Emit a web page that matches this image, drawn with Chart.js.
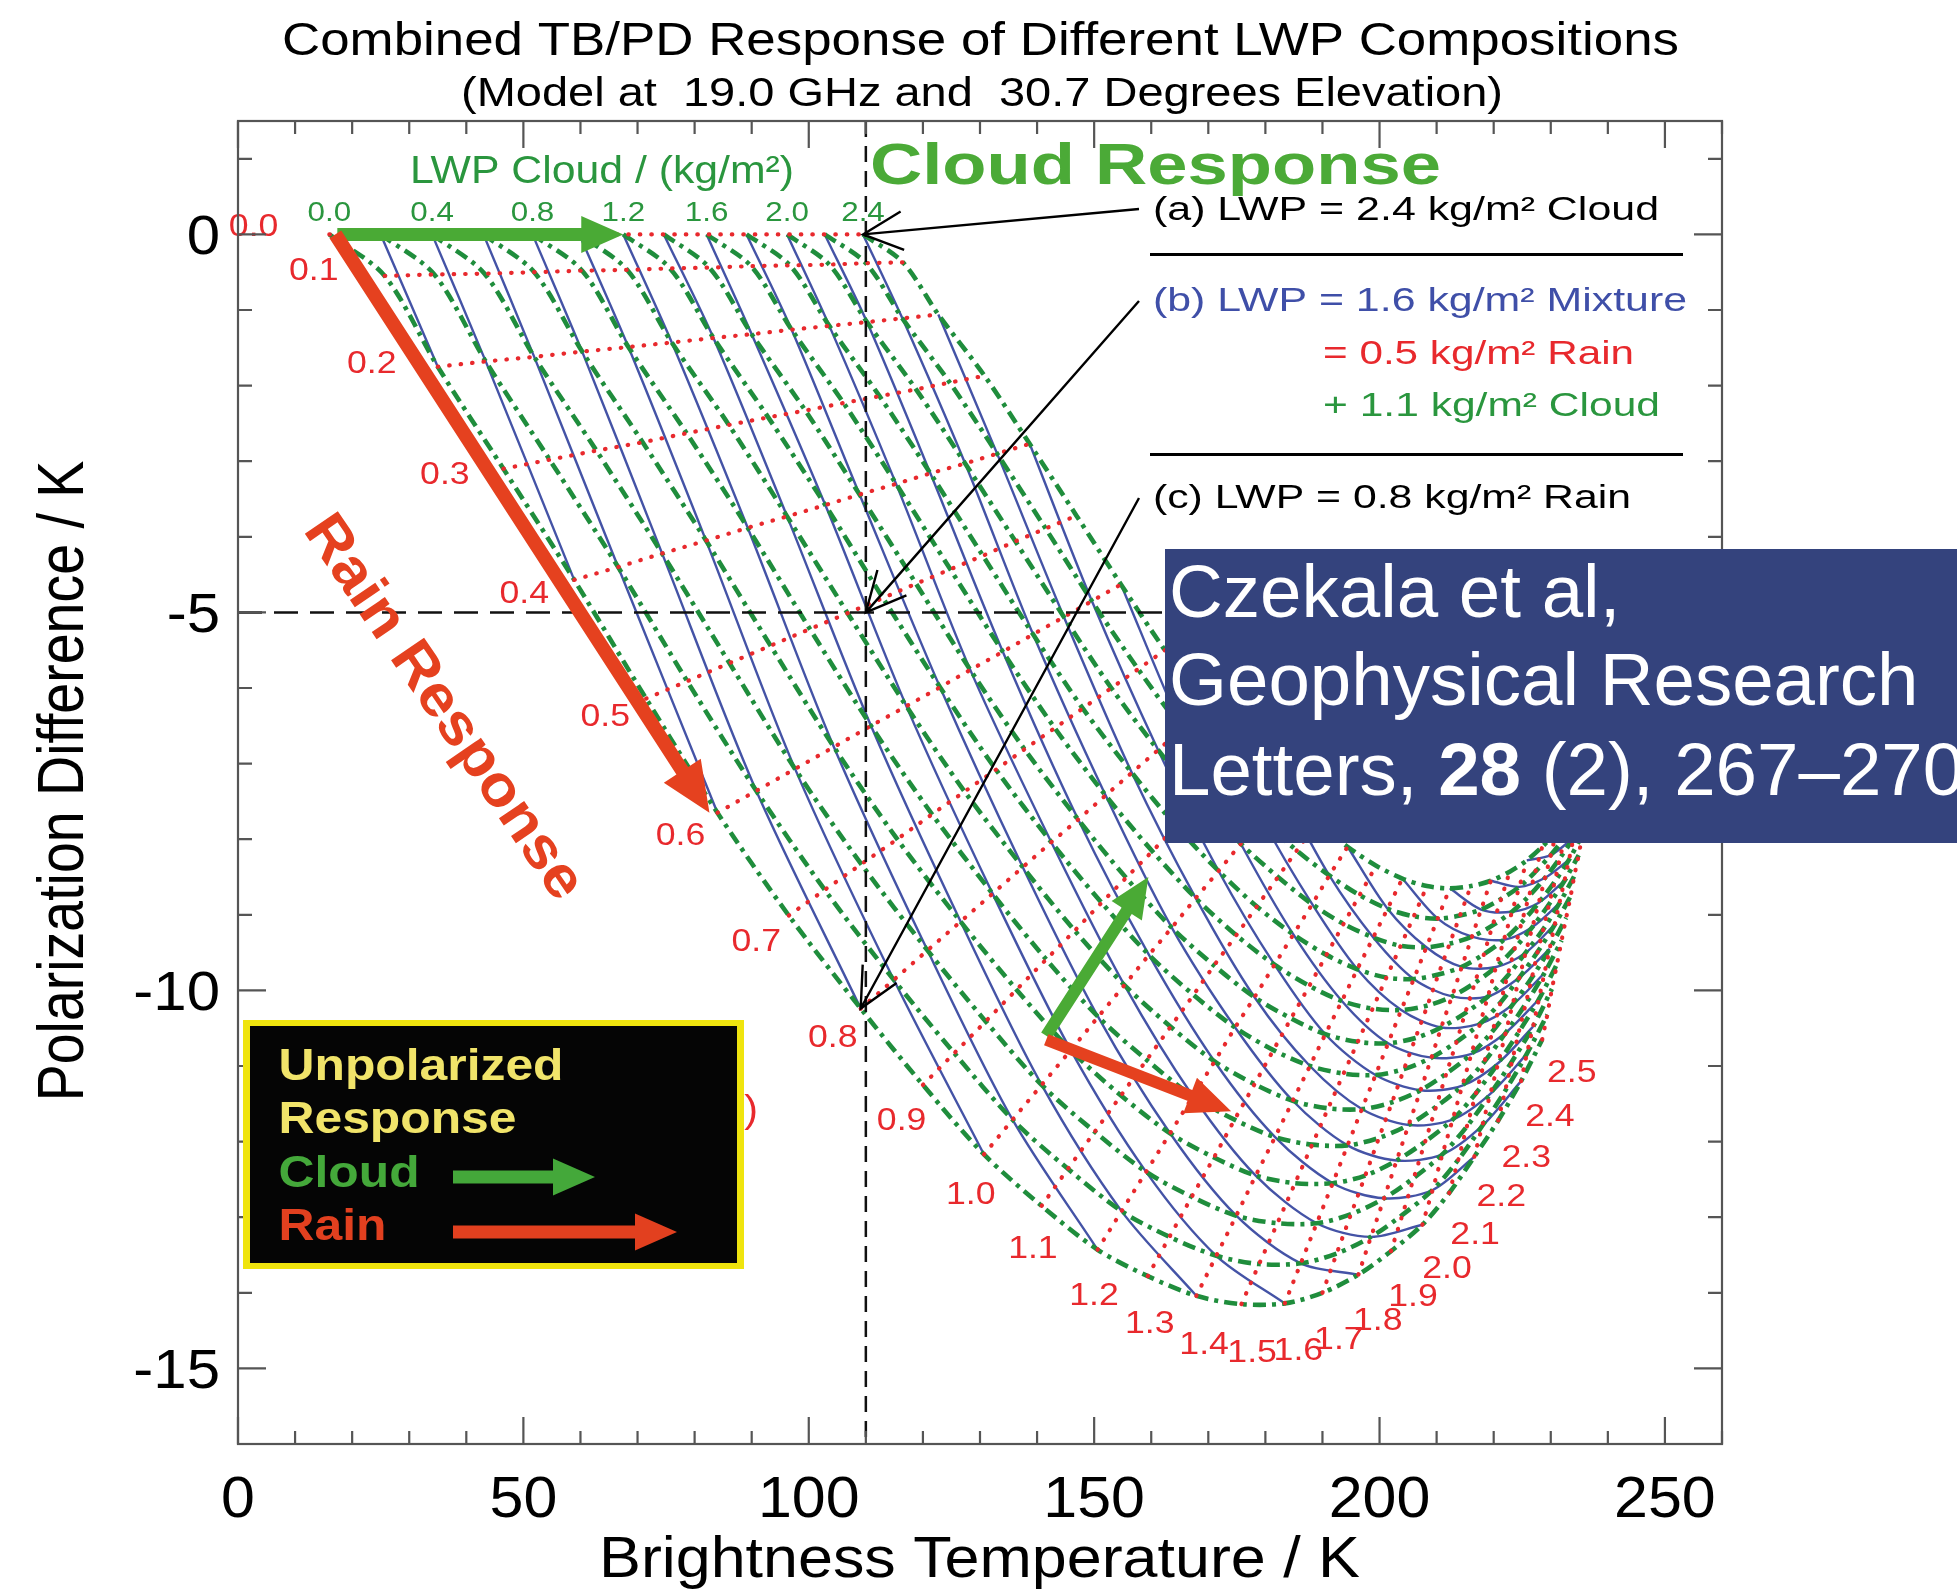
<!DOCTYPE html>
<html>
<head>
<meta charset="utf-8">
<script src="https://cdn.jsdelivr.net/npm/chart.js@4.4.1/dist/chart.umd.min.js"></script>
<style>
  html, body { margin: 0; padding: 0; background: #fff; }
  #wrap { position: relative; width: 1957px; height: 1593px; }
</style>
</head>
<body>
<div id="wrap"><canvas id="tbpd" width="1957" height="1593"></canvas></div>
<script>
// rain LWP (rows) and cloud LWP (columns) of the model grid, kg/m2
const rainLwp = [0.0, 0.1, 0.2, 0.3, 0.4, 0.5, 0.6, 0.7, 0.8, 0.9, 1.0, 1.1, 1.2,
                 1.3, 1.4, 1.5, 1.6, 1.7, 1.8, 1.9, 2.0, 2.1, 2.2, 2.3, 2.4, 2.5];
const cloudLwp = [0.0, 0.2, 0.4, 0.6, 0.8, 1.0, 1.2, 1.4, 1.6, 1.8, 2.0, 2.2, 2.4];

// brightness temperature (K) at each grid node, one row per rain value
const tbGrid = [
  [16.0, 25.0, 34.0, 43.0, 51.6, 59.8, 67.5, 74.6, 82.1, 89.1, 96.2, 102.8, 109.5],
  [25.7, 34.4, 43.2, 51.9, 60.3, 68.2, 75.7, 82.6, 89.9, 96.7, 103.6, 110.0, 116.5],
  [35.0, 43.4, 51.9, 60.3, 68.4, 76.0, 83.3, 90.0, 97.0, 103.6, 110.2, 116.4, 122.7],
  [46.5, 54.6, 62.8, 70.9, 78.6, 86.0, 92.9, 99.4, 106.1, 112.4, 118.8, 124.7, 130.8],
  [58.9, 66.6, 74.3, 82.0, 89.3, 96.2, 102.9, 108.9, 115.3, 121.3, 127.4, 133.0, 138.7],
  [71.5, 78.7, 86.1, 93.3, 100.2, 106.8, 113.0, 118.8, 124.8, 130.5, 136.2, 141.5, 146.9],
  [84.0, 90.8, 97.6, 104.4, 110.9, 117.1, 123.0, 128.3, 134.0, 139.3, 144.7, 149.6, 154.7],
  [96.5, 102.8, 109.2, 115.5, 121.6, 127.3, 132.8, 137.8, 143.1, 148.0, 153.0, 157.7, 162.4],
  [109.1, 114.9, 120.8, 126.6, 132.2, 137.5, 142.5, 147.2, 152.0, 156.6, 161.2, 165.4, 169.8],
  [120.0, 125.5, 131.0, 136.4, 141.6, 146.6, 151.3, 155.6, 160.2, 164.4, 168.7, 172.7, 176.8],
  [130.7, 135.7, 140.8, 145.9, 150.7, 155.3, 159.6, 163.6, 167.8, 171.8, 175.7, 179.4, 183.2],
  [140.8, 145.4, 150.1, 154.7, 159.2, 163.4, 167.4, 171.0, 174.9, 178.5, 182.2, 185.5, 189.0],
  [150.6, 154.8, 159.1, 163.3, 167.3, 171.1, 174.7, 178.1, 181.6, 184.9, 188.2, 191.2, 194.4],
  [159.4, 163.2, 167.1, 171.0, 174.6, 178.1, 181.4, 184.5, 187.7, 190.7, 193.7, 196.5, 199.4],
  [167.9, 171.4, 174.9, 178.3, 181.7, 184.8, 187.8, 190.5, 193.4, 196.1, 198.9, 201.4, 204.0],
  [175.8, 178.9, 182.1, 185.2, 188.2, 191.0, 193.7, 196.2, 198.8, 201.2, 203.7, 206.0, 208.3],
  [183.4, 186.2, 189.0, 191.8, 194.4, 196.9, 199.3, 201.5, 203.8, 206.0, 208.2, 210.2, 212.3],
  [190.0, 192.5, 195.0, 197.5, 199.9, 202.2, 204.3, 206.3, 208.4, 210.3, 212.3, 214.1, 216.0],
  [196.3, 198.5, 200.8, 203.0, 205.1, 207.2, 209.1, 210.8, 212.7, 214.4, 216.2, 217.8, 219.5],
  [202.0, 204.0, 206.0, 208.0, 209.9, 211.7, 213.5, 215.0, 216.7, 218.3, 219.8, 221.3, 222.8],
  [207.5, 209.3, 211.0, 212.8, 214.5, 216.1, 217.6, 219.0, 220.4, 221.8, 223.2, 224.5, 225.8],
  [212.2, 213.8, 215.3, 216.9, 218.4, 219.8, 221.2, 222.4, 223.7, 224.9, 226.2, 227.3, 228.5],
  [216.6, 218.0, 219.4, 220.8, 222.1, 223.3, 224.5, 225.6, 226.8, 227.9, 229.0, 230.0, 231.0],
  [220.8, 222.0, 223.2, 224.4, 225.6, 226.7, 227.7, 228.7, 229.7, 230.7, 231.6, 232.5, 233.4],
  [224.8, 225.8, 226.9, 227.9, 228.9, 229.8, 230.7, 231.5, 232.4, 233.2, 234.0, 234.7, 235.5],
  [228.5, 229.4, 230.2, 231.1, 231.9, 232.7, 233.5, 234.1, 234.9, 235.5, 236.2, 236.9, 237.5]
];

// polarization difference (K) at each grid node
const pdGrid = [
  [0, 0, 0, 0, 0, 0, 0, 0, 0, 0, 0, 0, 0],
  [-0.55, -0.53, -0.52, -0.50, -0.48, -0.47, -0.45, -0.44, -0.42, -0.41, -0.40, -0.38, -0.37],
  [-1.75, -1.68, -1.62, -1.55, -1.49, -1.43, -1.37, -1.32, -1.26, -1.21, -1.16, -1.11, -1.06],
  [-3.10, -2.98, -2.86, -2.75, -2.63, -2.52, -2.42, -2.33, -2.23, -2.14, -2.05, -1.96, -1.87],
  [-4.57, -4.40, -4.22, -4.05, -3.88, -3.73, -3.58, -3.44, -3.30, -3.16, -3.03, -2.90, -2.77],
  [-6.14, -5.91, -5.67, -5.44, -5.22, -5.01, -4.81, -4.62, -4.43, -4.25, -4.06, -3.89, -3.72],
  [-7.65, -7.36, -7.07, -6.78, -6.50, -6.24, -5.99, -5.76, -5.52, -5.29, -5.06, -4.85, -4.63],
  [-9.01, -8.67, -8.33, -8.00, -7.67, -7.37, -7.08, -6.81, -6.53, -6.27, -6.00, -5.75, -5.50],
  [-10.24, -9.86, -9.47, -9.09, -8.72, -8.37, -8.04, -7.74, -7.42, -7.12, -6.82, -6.54, -6.25],
  [-11.25, -10.83, -10.41, -9.99, -9.59, -9.21, -8.84, -8.51, -8.16, -7.83, -7.50, -7.20, -6.88],
  [-12.17, -11.71, -11.25, -10.79, -10.35, -9.93, -9.53, -9.17, -8.78, -8.42, -8.06, -7.73, -7.38],
  [-12.85, -12.36, -11.87, -11.39, -10.92, -10.48, -10.06, -9.67, -9.27, -8.89, -8.50, -8.15, -7.78],
  [-13.43, -12.92, -12.40, -11.89, -11.40, -10.94, -10.49, -10.09, -9.66, -9.26, -8.86, -8.48, -8.10],
  [-13.78, -13.26, -12.73, -12.21, -11.71, -11.24, -10.79, -10.37, -9.94, -9.53, -9.12, -8.74, -8.35],
  [-14.04, -13.51, -12.98, -12.45, -11.94, -11.46, -11.00, -10.58, -10.14, -9.72, -9.30, -8.92, -8.52],
  [-14.15, -13.62, -13.08, -12.55, -12.04, -11.56, -11.10, -10.68, -10.24, -9.83, -9.41, -9.02, -8.62],
  [-14.14, -13.61, -13.08, -12.55, -12.05, -11.57, -11.12, -10.70, -10.26, -9.85, -9.43, -9.05, -8.65],
  [-14.00, -13.48, -12.96, -12.45, -11.95, -11.48, -11.04, -10.63, -10.20, -9.79, -9.38, -9.01, -8.62],
  [-13.76, -13.26, -12.75, -12.25, -11.78, -11.32, -10.89, -10.49, -10.08, -9.69, -9.29, -8.93, -8.55],
  [-13.45, -12.97, -12.48, -12.00, -11.54, -11.10, -10.68, -10.30, -9.90, -9.52, -9.14, -8.79, -8.43],
  [-13.10, -12.64, -12.17, -11.71, -11.26, -10.84, -10.44, -10.08, -9.69, -9.33, -8.96, -8.63, -8.28],
  [-12.68, -12.24, -11.80, -11.36, -10.94, -10.54, -10.16, -9.81, -9.44, -9.10, -8.75, -8.43, -8.10],
  [-12.20, -11.79, -11.37, -10.96, -10.56, -10.19, -9.83, -9.50, -9.16, -8.84, -8.51, -8.21, -7.90],
  [-11.72, -11.33, -10.94, -10.55, -10.18, -9.83, -9.49, -9.19, -8.86, -8.56, -8.25, -7.97, -7.68],
  [-11.20, -10.84, -10.48, -10.12, -9.77, -9.45, -9.13, -8.85, -8.55, -8.27, -7.98, -7.72, -7.45],
  [-10.65, -10.32, -9.98, -9.65, -9.34, -9.04, -8.75, -8.49, -8.21, -7.95, -7.69, -7.45, -7.20]
];

const xTicks = [0, 50, 100, 150, 200, 250];
const yTicks = [0, -5, -10, -15];

// reference lines and the example points (a), (b), (c)
const markTB = 110;
const markPD = -5;

// small response arrows in the lower middle (TB, PD)
const arrowBase = [141.6, -10.6];
const cloudTip = [159.5, -8.5];
const rainTip = [174.0, -11.6];

const FONT = '"Liberation Sans", Arial, Helvetica, sans-serif';
const RED = '#e8292d';
const GREEN_LINE = '#1f8d3c';
const GREEN_TXT = '#2a963e';
const BLUE = '#4453a6';

// where the rain labels sit relative to their node (direction in degrees, distance in px)
const labelAnchorR = [0, 0.2, 0.5, 0.8, 1.0, 1.4, 2.0, 2.5];
const labelAngle = [185, 182, 155, 133, 108, 81, 61, 49];
const labelDist = [76, 66, 45, 41, 43, 50, 51, 45];

function lerpTable(xs, ys, x) {
  if (x <= xs[0]) return ys[0];
  for (let k = 1; k < xs.length; k++) {
    if (x <= xs[k]) {
      const t = (x - xs[k - 1]) / (xs[k] - xs[k - 1]);
      return ys[k - 1] + t * (ys[k] - ys[k - 1]);
    }
  }
  return ys[ys.length - 1];
}

// ---- datasets ----
const datasets = [];

// blue: constant total LWP (even tenths), through nodes on even rain rows
for (let k = 1; k <= 24; k++) {
  const pts = [];
  for (let m = Math.max(0, k - 12); m <= Math.min(12, k); m++) {
    if (2 * m < rainLwp.length) pts.push({ x: tbGrid[2 * m][k - m], y: pdGrid[2 * m][k - m] });
  }
  if (pts.length < 2) continue;
  datasets.push({
    data: pts, showLine: true, pointRadius: 0, borderColor: BLUE,
    borderWidth: 2.4, tension: 0.3, order: 2
  });
}

// green dash-dot: constant cloud LWP
cloudLwp.forEach((c, j) => {
  datasets.push({
    data: rainLwp.map((r, i) => ({ x: tbGrid[i][j], y: pdGrid[i][j] })),
    showLine: true, pointRadius: 0, borderColor: GREEN_LINE, borderWidth: 4.6,
    borderDash: [13, 6, 4, 6], tension: 0.3, order: 1
  });
});

// red dotted: constant rain LWP
rainLwp.forEach((r, i) => {
  datasets.push({
    data: cloudLwp.map((c, j) => ({ x: tbGrid[i][j], y: pdGrid[i][j] })),
    showLine: true, pointRadius: 0, borderColor: RED, borderWidth: 4.2,
    borderCapStyle: 'round', borderDash: [0.5, 11], tension: 0, order: 0
  });
});

// ---- drawing helpers ----
function text(ctx, s, x, y, o) {
  ctx.save();
  ctx.font = (o.weight || 'normal') + ' ' + o.size + 'px ' + FONT;
  ctx.fillStyle = o.color || '#000';
  ctx.textAlign = o.align || 'left';
  ctx.textBaseline = o.base || 'alphabetic';
  let sx = o.sx || 1;
  if (o.width) sx = o.width / ctx.measureText(s).width;
  ctx.translate(x, y);
  if (o.screenSx) ctx.scale(o.screenSx, 1);
  if (o.rot) ctx.rotate(o.rot);
  ctx.scale(sx, 1);
  ctx.fillText(s, 0, 0);
  ctx.restore();
}

function fatArrow(ctx, x1, y1, x2, y2, w, hl, hw, color) {
  const ang = Math.atan2(y2 - y1, x2 - x1);
  const len = Math.hypot(x2 - x1, y2 - y1);
  ctx.save();
  ctx.translate(x1, y1);
  ctx.rotate(ang);
  ctx.beginPath();
  ctx.moveTo(0, -w / 2);
  ctx.lineTo(len - hl, -w / 2);
  ctx.lineTo(len - hl, -hw / 2);
  ctx.lineTo(len, 0);
  ctx.lineTo(len - hl, hw / 2);
  ctx.lineTo(len - hl, w / 2);
  ctx.lineTo(0, w / 2);
  ctx.closePath();
  ctx.fillStyle = color;
  ctx.fill();
  ctx.restore();
}

function pointer(ctx, x1, y1, x2, y2) {
  ctx.save();
  ctx.strokeStyle = '#000';
  ctx.lineWidth = 2.4;
  ctx.beginPath();
  ctx.moveTo(x1, y1);
  ctx.lineTo(x2, y2);
  const back = Math.atan2(y1 - y2, x1 - x2);
  const a = 26 * Math.PI / 180;
  ctx.moveTo(x2 + 44 * Math.cos(back - a), y2 + 44 * Math.sin(back - a));
  ctx.lineTo(x2, y2);
  ctx.lineTo(x2 + 44 * Math.cos(back + a), y2 + 44 * Math.sin(back + a));
  ctx.stroke();
  ctx.restore();
}

const overlay = {
  id: 'overlay',
  beforeDraw(chart) {
    const ctx = chart.ctx;
    ctx.save();
    ctx.fillStyle = '#fff';
    ctx.fillRect(0, 0, chart.width, chart.height);
    ctx.restore();
  },
  afterDatasetsDraw(chart) {
    const ctx = chart.ctx;
    const xs = chart.scales.x, ys = chart.scales.y;
    const ca = chart.chartArea;
    const px = v => xs.getPixelForValue(v);
    const py = v => ys.getPixelForValue(v);

    // dashed reference lines
    ctx.save();
    ctx.strokeStyle = '#111';
    ctx.lineWidth = 2.5;
    ctx.setLineDash([16, 9]);
    ctx.beginPath();
    ctx.moveTo(px(markTB), ca.top);
    ctx.lineTo(px(markTB), ca.bottom);
    ctx.stroke();
    ctx.setLineDash([24, 12]);
    ctx.beginPath();
    ctx.moveTo(ca.left, py(markPD));
    ctx.lineTo(ca.right, py(markPD));
    ctx.stroke();
    ctx.restore();

    // big response arrows from the clear-sky node
    const x0 = px(tbGrid[0][0]), y0 = py(pdGrid[0][0]);
    fatArrow(ctx, x0 + 8, y0, px(tbGrid[0][6]), py(pdGrid[0][6]), 13, 42, 37, '#4aaa35');
    fatArrow(ctx, x0 + 6, y0, px(tbGrid[6][0]) - 8, py(pdGrid[6][0]), 14, 50, 44, '#e5411f');

    // small arrows
    fatArrow(ctx, px(arrowBase[0]), py(arrowBase[1]), px(cloudTip[0]), py(cloudTip[1]), 12, 40, 36, '#4aaa35');
    fatArrow(ctx, px(arrowBase[0]), py(arrowBase[1]) + 4, px(rainTip[0]), py(rainTip[1]), 12, 44, 38, '#e5411f');

    // rain labels along the pure-rain curve
    rainLwp.forEach((r, i) => {
      const th = lerpTable(labelAnchorR, labelAngle, r) * Math.PI / 180;
      const L = lerpTable(labelAnchorR, labelDist, r);
      const x = px(tbGrid[i][0]) + L * Math.cos(th);
      const y = py(pdGrid[i][0]) + L * Math.sin(th);
      text(ctx, r.toFixed(1), x, y, { size: 31, color: RED, align: 'center', base: 'middle', sx: 1.15 });
    });

    // cloud labels along the top row
    cloudLwp.forEach((c, j) => {
      if (j % 2) return;
      text(ctx, c.toFixed(1), px(tbGrid[0][j]), py(0) - 13, { size: 28, color: GREEN_TXT, align: 'center', sx: 1.12 });
    });
    text(ctx, 'LWP Cloud / (kg/m\u00b2)', 410, 183, { size: 38.6, color: GREEN_TXT, width: 384 });

    // big captions
    text(ctx, 'Cloud Response', 870, 184, { size: 58, weight: 'bold', color: '#4baa37', width: 571 });
    text(ctx, 'Rain Response', 443, 708, { size: 58, weight: 'bold', color: '#e5411f', align: 'center', base: 'middle', rot: 55.7 * Math.PI / 180, width: 452 });

    // frame and inward ticks
    ctx.save();
    ctx.strokeStyle = '#555';
    ctx.lineWidth = 2.2;
    ctx.strokeRect(ca.left, ca.top, ca.right - ca.left, ca.bottom - ca.top);
    ctx.beginPath();
    for (let v = 0; v <= xs.max; v += 10) {
      const x = px(v);
      const len = xTicks.includes(v) ? 27 : 13;
      ctx.moveTo(x, ca.bottom); ctx.lineTo(x, ca.bottom - len);
      ctx.moveTo(x, ca.top); ctx.lineTo(x, ca.top + len);
    }
    for (let v = Math.ceil(ys.min); v <= ys.max; v += 1) {
      const y = py(v);
      const len = yTicks.includes(v) ? 28 : 14;
      ctx.moveTo(ca.left, y); ctx.lineTo(ca.left + len, y);
      ctx.moveTo(ca.right, y); ctx.lineTo(ca.right - len, y);
    }
    ctx.stroke();
    ctx.restore();

    // tick labels
    xTicks.forEach(v => text(ctx, String(v), px(v), 1517, { size: 58, align: 'center', sx: 1.05 }));
    yTicks.forEach(v => text(ctx, String(v), 220, py(v) + 20, { size: 55, align: 'right', sx: 1.09 }));

    // axis titles and chart title
    text(ctx, 'Brightness Temperature / K', 979.5, 1577, { size: 58, align: 'center', width: 761 });
    text(ctx, 'Polarization Difference / K', 83, 781, { size: 55.5, align: 'center', screenSx: 1.18, rot: -Math.PI / 2 });
    text(ctx, 'Combined TB/PD Response of Different LWP Compositions', 980.5, 55, { size: 46.5, align: 'center', width: 1397 });
    text(ctx, '(Model at  19.0 GHz and  30.7 Degrees Elevation)', 982, 106, { size: 40, align: 'center', width: 1042 });

    // example annotations on the right
    text(ctx, '(a) LWP = 2.4 kg/m\u00b2 Cloud', 1153, 220, { size: 33, width: 506 });
    text(ctx, '(b) LWP = 1.6 kg/m\u00b2 Mixture', 1153, 311, { size: 33, color: '#3f4fa8', width: 534 });
    text(ctx, '= 0.5 kg/m\u00b2 Rain', 1323, 364, { size: 33, color: RED, width: 311 });
    text(ctx, '+ 1.1 kg/m\u00b2 Cloud', 1323, 416, { size: 33, color: GREEN_TXT, width: 337 });
    text(ctx, '(c) LWP = 0.8 kg/m\u00b2 Rain', 1153, 508, { size: 33, width: 478 });
    ctx.save();
    ctx.strokeStyle = '#000';
    ctx.lineWidth = 3;
    ctx.beginPath();
    ctx.moveTo(1150, 254.5); ctx.lineTo(1683, 254.5);
    ctx.moveTo(1150, 454.5); ctx.lineTo(1683, 454.5);
    ctx.stroke();
    ctx.restore();
    pointer(ctx, 1139, 209, px(tbGrid[0][12]), py(pdGrid[0][12]));
    pointer(ctx, 1139, 301, px(markTB), py(markPD));
    pointer(ctx, 1139, 498, px(tbGrid[8][0]), py(pdGrid[8][0]));

    // rain axis caption, mostly hidden by the legend box
    text(ctx, 'LWP Rain / (kg/m\u00b2)', 758, 1122, { size: 38.6, color: RED, align: 'right', sx: 1.07 });

    // legend box
    ctx.save();
    ctx.fillStyle = '#efe40e';
    ctx.fillRect(243, 1020, 501, 249);
    ctx.fillStyle = '#050505';
    ctx.fillRect(250, 1026, 487, 237);
    ctx.restore();
    ctx.save();
    ctx.font = 'bold 44.7px ' + FONT;
    const lsx = 285 / ctx.measureText('Unpolarized').width;
    ctx.restore();
    text(ctx, 'Unpolarized', 278.5, 1080, { size: 44.7, weight: 'bold', color: '#f1e46a', sx: lsx });
    text(ctx, 'Response', 278.5, 1133, { size: 44.7, weight: 'bold', color: '#f1e46a', sx: lsx });
    text(ctx, 'Cloud', 278.5, 1187, { size: 44.7, weight: 'bold', color: '#44a83a', sx: lsx });
    text(ctx, 'Rain', 278.5, 1240, { size: 44.7, weight: 'bold', color: '#e2401f', sx: lsx });
    fatArrow(ctx, 453, 1177, 595, 1177, 13, 42, 37, '#44a83a');
    fatArrow(ctx, 453, 1232, 677, 1232, 13, 42, 37, '#e2401f');

    // citation box
    ctx.save();
    ctx.fillStyle = '#34437d';
    ctx.fillRect(1165, 549, 792, 294);
    ctx.fillStyle = '#fff';
    ctx.font = '74.5px ' + FONT;
    ctx.fillText('Czekala et al,', 1169, 617);
    ctx.fillText('Geophysical Research', 1169, 705);
    let lx = 1169;
    ctx.fillText('Letters, ', lx, 795);
    lx += ctx.measureText('Letters, ').width;
    ctx.font = 'bold 74.5px ' + FONT;
    ctx.fillText('28', lx, 795);
    lx += ctx.measureText('28').width;
    ctx.font = '74.5px ' + FONT;
    ctx.fillText(' (2), 267\u2013270', lx, 795);
    ctx.restore();
  }
};

new Chart(document.getElementById('tbpd'), {
  type: 'scatter',
  data: { datasets: datasets },
  options: {
    responsive: false,
    animation: false,
    events: [],
    layout: { padding: { left: 238, top: 121, right: 235, bottom: 149 } },
    scales: {
      x: { type: 'linear', min: 0, max: 260, display: false },
      y: { type: 'linear', min: -16, max: 1.5, display: false }
    },
    plugins: { legend: { display: false }, tooltip: { enabled: false } }
  },
  plugins: [overlay]
});
</script>
</body>
</html>
